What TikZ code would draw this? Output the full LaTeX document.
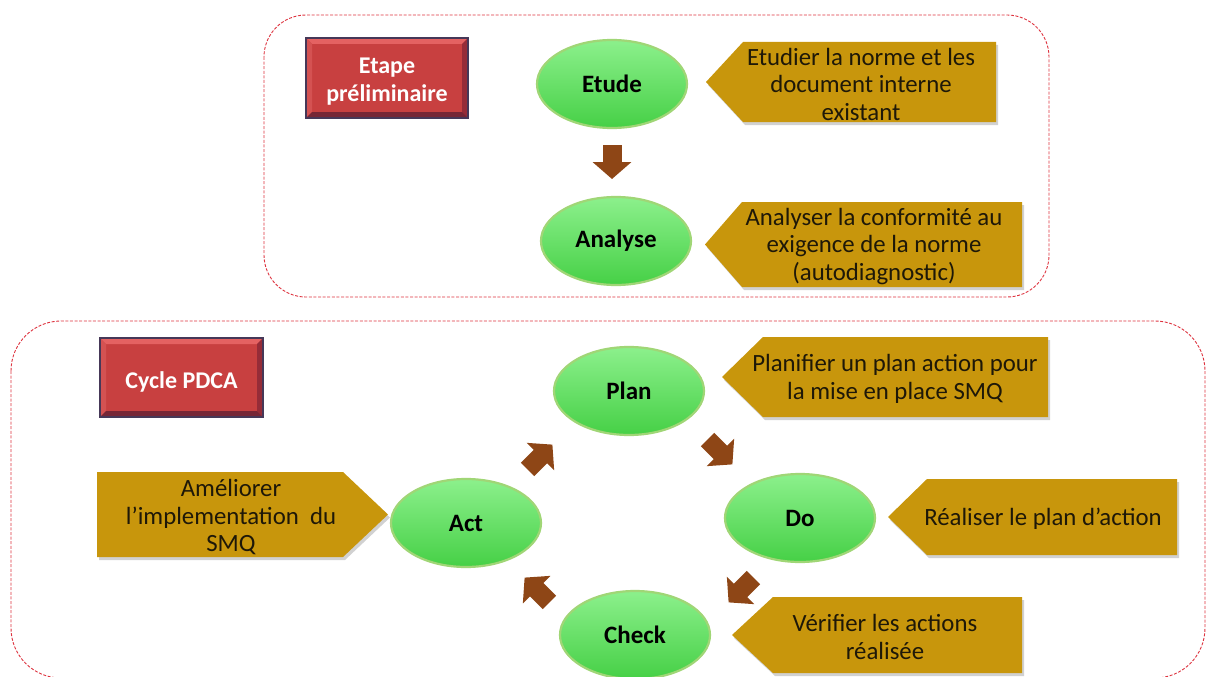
\documentclass[tikz,border=0pt]{standalone}
\usepackage{fontspec}
\setmainfont{Carlito}
\usetikzlibrary{arrows.meta,shapes.geometric}

% palette
\definecolor{frameRed}{RGB}{222,52,64}
\definecolor{calloutFill}{RGB}{200,150,12}
\definecolor{calloutText}{RGB}{30,24,8}
\definecolor{arrowBrown}{RGB}{142,70,22}
\definecolor{greenTop}{RGB}{140,240,140}
\definecolor{greenMid}{RGB}{98,228,98}
\definecolor{greenBot}{RGB}{70,208,70}
\definecolor{greenEdge}{RGB}{160,214,118}
\definecolor{boxFace}{RGB}{200,64,64}
\definecolor{boxTop}{RGB}{228,98,98}
\definecolor{boxLeft}{RGB}{212,82,82}
\definecolor{boxRight}{RGB}{150,44,56}
\definecolor{boxBottom}{RGB}{118,38,54}
\definecolor{boxLine}{RGB}{70,56,88}

\tikzset{
  frame/.style={draw=frameRed, line width=0.9pt, dash pattern=on 3pt off 1.6pt},
  phase/.style={ellipse, minimum width=150pt, minimum height=88pt, inner sep=0pt,
    shading=axis, top color=greenTop, middle color=greenMid, bottom color=greenBot,
    draw=greenEdge, line width=2.2pt,
    font=\fontsize{25}{28}\selectfont\bfseries, text=black},
  callouttext/.style={align=center, inner sep=0pt, text=calloutText,
    font=\fontsize{24.8}{27.5}\selectfont},
  boxtext/.style={align=center, inner sep=0pt, text=white,
    font=\fontsize{24}{28}\selectfont\bfseries},
  blockarrow/.style={draw=arrowBrown, line width=19pt,
    -{Triangle[width=38pt,length=17pt]}},
}

% gold pentagon pointing left: name, tip x, body left x, right x, top, bottom, text x, text
\newcommand\calloutLeft[8]{%
  \fill[black, opacity=0.18] (#2+2,{(#5+#6)/2+3}) -- (#3+2,#5+3) -- (#4+2,#5+3)
    -- (#4+2,#6+3) -- (#3+2,#6+3) -- cycle;
  \fill[calloutFill] (#2,{(#5+#6)/2}) -- (#3,#5) -- (#4,#5) -- (#4,#6) -- (#3,#6) -- cycle;
  \node[callouttext] (#1) at (#7,{(#5+#6)/2+2}) {#8};}

% gold pentagon pointing right: name, left x, body right x, tip x, top, bottom, text x, text
\newcommand\calloutRight[8]{%
  \fill[black, opacity=0.18] (#2+2,#5+3) -- (#3+2,#5+3) -- (#4+2,{(#5+#6)/2+3})
    -- (#3+2,#6+3) -- (#2+2,#6+3) -- cycle;
  \fill[calloutFill] (#2,#5) -- (#3,#5) -- (#4,{(#5+#6)/2}) -- (#3,#6) -- (#2,#6) -- cycle;
  \node[callouttext] (#1) at (#7,{(#5+#6)/2+3}) {#8};}

% bevelled red title box: name, x1, y1, x2, y2, text
\newcommand\bevelBox[6]{%
  \fill[boxFace] (#2,#3) rectangle (#4,#5);
  \fill[boxTop] (#2,#3) -- (#4,#3) -- (#4-6,#3+6) -- (#2+6,#3+6) -- cycle;
  \fill[boxLeft] (#2,#3) -- (#2+6,#3+6) -- (#2+6,#5-6) -- (#2,#5) -- cycle;
  \fill[boxRight] (#4,#3) -- (#4,#5) -- (#4-6,#5-6) -- (#4-6,#3+6) -- cycle;
  \fill[boxBottom] (#2,#5) -- (#2+6,#5-6) -- (#4-6,#5-6) -- (#4,#5) -- cycle;
  \draw[boxLine, line width=1.2pt] (#2,#3) rectangle (#4,#5);
  \node[boxtext] (#1) at ({(#2+#4)/2},{(#3+#5)/2+4}) {#6};}

\begin{document}
\begin{tikzpicture}[x=1pt, y=-1pt]
  \useasboundingbox (0,0) rectangle (1208,677);
  \fill[white] (0,0) rectangle (1208,677);

  % dashed frames of the two parts
  \draw[frame, rounded corners=42pt] (264,15) rectangle (1049,297);
  \draw[frame, rounded corners=50pt] (11,321) rectangle (1205,678);

  % title boxes
  \bevelBox{prelim}{306}{38}{468}{118}{Etape\\préliminaire}
  \bevelBox{pdca}{100}{338}{263}{417}{Cycle PDCA}

  % preliminary stage
  \node[phase] (etude) at (612,84) {Etude};
  \node[phase] (analyse) at (616,241) {Analyse};
  \calloutLeft{etudeNote}{706}{743}{996}{42}{122}{861}
    {Etudier la norme et les\\document interne\\existant}
  \calloutLeft{analyseNote}{705}{742}{1022}{202}{287}{874}
    {Analyser la conformité au\\exigence de la norme\\(autodiagnostic)}
  \coordinate (e1) at (612,145);
  \coordinate (e2) at (612,179);
  \draw[blockarrow] (e1) -- (e2);

  % PDCA cycle
  \node[phase] (plan) at (629,391) {Plan};
  \node[phase] (do) at (800,518) {Do};
  \node[phase] (check) at (635,635) {Check};
  \node[phase] (act) at (466,523) {Act};

  \calloutLeft{planNote}{722}{763}{1048}{337}{417}{895}
    {Planifier un plan action pour\\la mise en place SMQ}
  \calloutLeft{doNote}{888}{927}{1177}{479}{555}{1043}
    {Réaliser le plan d’action}
  \calloutLeft{checkNote}{732}{773}{1022}{597}{673}{885}
    {Vérifier les actions\\réalisée}
  \calloutRight{actNote}{97}{343}{388}{472}{557}{231}
    {Améliorer\\l’implementation\ \ du\\SMQ}

  % cycle arrows
  \coordinate (pd1) at (707.6,439.6);  \coordinate (pd2) at (732.4,464.4);
  \coordinate (dc1) at (753.4,577.6);  \coordinate (dc2) at (728.6,602.4);
  \coordinate (ca1) at (549.4,602.4);  \coordinate (ca2) at (524.6,577.6);
  \coordinate (ap1) at (527.6,469.4);  \coordinate (ap2) at (552.4,444.6);
  \draw[blockarrow] (pd1) -- (pd2);
  \draw[blockarrow] (dc1) -- (dc2);
  \draw[blockarrow] (ca1) -- (ca2);
  \draw[blockarrow] (ap1) -- (ap2);
\end{tikzpicture}
\end{document}
